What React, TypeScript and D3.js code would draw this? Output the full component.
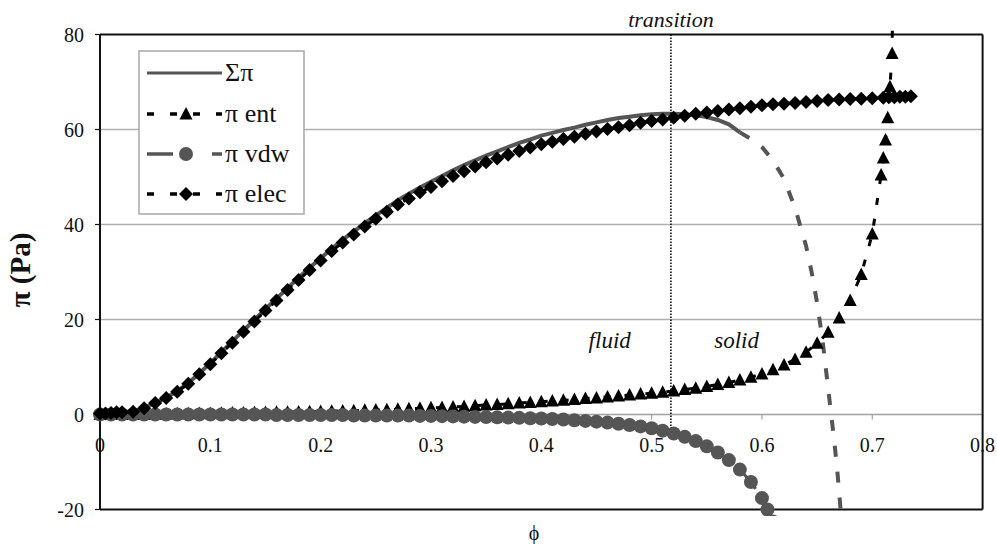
import React from "react";
import * as d3 from "d3";

// ---- data (φ, π in Pa) ----
const sigmaData: [number, number][] = [
  [0, 0.2], [0.01, 0.3], [0.02, 0.5], [0.03, 0.6], [0.04, 1.35], [0.05, 2.5], [0.06, 3.6], [0.07, 4.9],
  [0.08, 6.6], [0.09, 8.7], [0.1, 10.8], [0.11, 13.1], [0.12, 15.4], [0.13, 17.7], [0.14, 19.9], [0.15, 22.2],
  [0.16, 24.4], [0.17, 26.6], [0.18, 28.8], [0.19, 30.9], [0.2, 32.9], [0.21, 34.9], [0.22, 36.8], [0.23, 38.5],
  [0.24, 40.3], [0.25, 41.9], [0.26, 43.5], [0.27, 45.1], [0.28, 46.5], [0.29, 47.8], [0.3, 49.0], [0.31, 50.2],
  [0.32, 51.4], [0.33, 52.5], [0.34, 53.5], [0.35, 54.5], [0.36, 55.4], [0.37, 56.3], [0.38, 57.2], [0.39, 57.9],
  [0.4, 58.7], [0.41, 59.3], [0.42, 59.9], [0.43, 60.4], [0.44, 61.0], [0.45, 61.5], [0.46, 62.0], [0.47, 62.4],
  [0.48, 62.7], [0.49, 63.0], [0.5, 63.2], [0.51, 63.3], [0.52, 63.3], [0.53, 63.2], [0.54, 63.0], [0.55, 62.6],
  [0.56, 62.0], [0.57, 61.1], [0.58, 59.4], [0.59, 58.0], [0.6, 56.3], [0.61, 53.5], [0.62, 49.6], [0.63, 43.5],
  [0.64, 35.5], [0.645, 30.0], [0.65, 23.5], [0.655, 15.5], [0.66, 5.5], [0.665, -4.5], [0.668, -11.0],
  [0.67, -16.5], [0.672, -22.0],
];
const sigmaSolidUntil = 0.58; // Σπ drawn solid up to here, dashed after

const entData: [number, number][] = [
  [0, 0], [0.01, 0], [0.02, 0], [0.03, 0.05], [0.04, 0.05], [0.05, 0.1], [0.06, 0.1], [0.07, 0.15], [0.08, 0.15],
  [0.09, 0.2], [0.1, 0.2], [0.11, 0.25], [0.12, 0.3], [0.13, 0.3], [0.14, 0.35], [0.15, 0.4], [0.16, 0.45],
  [0.17, 0.5], [0.18, 0.55], [0.19, 0.6], [0.2, 0.65], [0.21, 0.7], [0.22, 0.75], [0.23, 0.8], [0.24, 0.9],
  [0.25, 0.95], [0.26, 1.0], [0.27, 1.1], [0.28, 1.2], [0.29, 1.3], [0.3, 1.4], [0.31, 1.5], [0.32, 1.6],
  [0.33, 1.7], [0.34, 1.85], [0.35, 2.0], [0.36, 2.1], [0.37, 2.25], [0.38, 2.4], [0.39, 2.55], [0.4, 2.7],
  [0.41, 2.85], [0.42, 3.0], [0.43, 3.15], [0.44, 3.35], [0.45, 3.5], [0.46, 3.7], [0.47, 3.9], [0.48, 4.1],
  [0.49, 4.3], [0.5, 4.5], [0.51, 4.7], [0.52, 4.95], [0.53, 5.25], [0.54, 5.55], [0.55, 5.9], [0.56, 6.3],
  [0.57, 6.75], [0.58, 7.25], [0.59, 7.85], [0.6, 8.55], [0.61, 9.4], [0.62, 10.4], [0.63, 11.6], [0.64, 13.1],
  [0.65, 15.0], [0.66, 17.3], [0.67, 20.3], [0.68, 24.0], [0.69, 29.5], [0.7, 38.0], [0.708, 50.4], [0.71, 54.0],
  [0.712, 57.8], [0.714, 62.5], [0.716, 69.0], [0.718, 76.0], [0.7185, 90.0],
];

const vdwData: [number, number][] = [
  [0, 0], [0.01, 0], [0.02, 0], [0.03, 0], [0.04, 0], [0.05, 0], [0.06, 0], [0.07, 0], [0.08, 0], [0.09, 0],
  [0.1, 0], [0.11, 0], [0.12, 0], [0.13, 0], [0.14, 0], [0.15, 0], [0.16, -0.1], [0.17, -0.1], [0.18, -0.1],
  [0.19, -0.1], [0.2, -0.1], [0.21, -0.1], [0.22, -0.1], [0.23, -0.2], [0.24, -0.2], [0.25, -0.2], [0.26, -0.2],
  [0.27, -0.2], [0.28, -0.2], [0.29, -0.3], [0.3, -0.3], [0.31, -0.35], [0.32, -0.4], [0.33, -0.45], [0.34, -0.5],
  [0.35, -0.55], [0.36, -0.6], [0.37, -0.65], [0.38, -0.7], [0.39, -0.8], [0.4, -0.85], [0.41, -0.95],
  [0.42, -1.05], [0.43, -1.2], [0.44, -1.35], [0.45, -1.5], [0.46, -1.7], [0.47, -1.95], [0.48, -2.2],
  [0.49, -2.5], [0.5, -2.9], [0.51, -3.4], [0.52, -4.0], [0.53, -4.7], [0.54, -5.6], [0.55, -6.7], [0.56, -8.0],
  [0.57, -9.6], [0.58, -11.6], [0.59, -14.2], [0.6, -17.6], [0.605, -20.0], [0.61, -22.5],
];

const elecData: [number, number][] = [
  [0, 0.2], [0.005, 0.2], [0.01, 0.3], [0.015, 0.5], [0.02, 0.5], [0.03, 0.6], [0.04, 1.3], [0.05, 2.4],
  [0.06, 3.5], [0.07, 4.8], [0.08, 6.5], [0.09, 8.5], [0.1, 10.6], [0.11, 12.9], [0.12, 15.1], [0.13, 17.4],
  [0.14, 19.6], [0.15, 21.9], [0.16, 24.0], [0.17, 26.2], [0.18, 28.3], [0.19, 30.4], [0.2, 32.4], [0.21, 34.4],
  [0.22, 36.2], [0.23, 37.9], [0.24, 39.6], [0.25, 41.2], [0.26, 42.7], [0.27, 44.2], [0.28, 45.5], [0.29, 46.8],
  [0.3, 47.9], [0.31, 49.1], [0.32, 50.2], [0.33, 51.2], [0.34, 52.2], [0.35, 53.1], [0.36, 53.9], [0.37, 54.7],
  [0.38, 55.5], [0.39, 56.2], [0.4, 56.9], [0.41, 57.4], [0.42, 58.0], [0.43, 58.5], [0.44, 59.1], [0.45, 59.6],
  [0.46, 60.1], [0.47, 60.5], [0.48, 60.9], [0.49, 61.4], [0.5, 61.8], [0.51, 62.1], [0.52, 62.5], [0.53, 62.9],
  [0.54, 63.3], [0.55, 63.6], [0.56, 63.9], [0.57, 64.2], [0.58, 64.5], [0.59, 64.8], [0.6, 65.1], [0.61, 65.3],
  [0.62, 65.4], [0.63, 65.6], [0.64, 65.8], [0.65, 66.0], [0.66, 66.2], [0.67, 66.3], [0.68, 66.4], [0.69, 66.5],
  [0.7, 66.6], [0.71, 66.7], [0.715, 66.8], [0.72, 66.8], [0.725, 66.9], [0.73, 66.9], [0.735, 67.0],
];

const xTicks = [0, 0.1, 0.2, 0.3, 0.4, 0.5, 0.6, 0.7, 0.8];
const xTickLabels = ["0", "0.1", "0.2", "0.3", "0.4", "0.5", "0.6", "0.7", "0.8"];
const yTicks = [-20, 0, 20, 40, 60, 80];
const yTickLabels = ["-20", "0", "20", "40", "60", "80"];
const gridValues = [20, 40, 60];
const legendLabels = ["Σπ", "π ent", "π vdw", "π elec"];
const transitionPhi = 0.5175;
const transitionBottom = -2.8;
const regionLabels: [string, number][] = [["fluid", 0.462], ["solid", 0.577]];
const regionLabelValue = 14;

const W = 997;
const H = 544;
const GRAY = "#555555";
const FONT = "'Liberation Serif', 'Times New Roman', serif";

const x = d3.scaleLinear().domain([0, 0.8]).range([100, 982.6]);
const y = d3.scaleLinear().domain([-20, 80]).range([509.5, 34.5]);

const line = d3
  .line<[number, number]>()
  .x((d) => x(d[0]))
  .y((d) => y(d[1]));

const diamondPath = "M0,-7L7,0L0,7L-7,0Z";
const trianglePath = "M0,-7L6.5,5.5L-6.5,5.5Z";

function Marker({ kind, cx, cy, fill }: { kind: string; cx: number; cy: number; fill: string }) {
  if (kind === "circle") return <circle cx={cx} cy={cy} r={7} fill={fill} />;
  return (
    <path
      d={kind === "diamond" ? diamondPath : trianglePath}
      transform={`translate(${cx},${cy})`}
      fill={fill}
    />
  );
}

export default function App() {
  const sigmaSolid = sigmaData.filter((d) => d[0] <= sigmaSolidUntil);
  const sigmaDashed = sigmaData.filter((d) => d[0] >= sigmaSolidUntil);
  const x0 = x(0);
  const x1 = x(0.8);
  const yTop = y(80);
  const yBot = y(-20);
  const yZero = y(0);

  const legendX = 139;
  const legendY = 51;
  const legendRows = [73, 114, 154, 194];
  const lx0 = 147;
  const lx1 = 222;
  const lmid = 186;

  return (
    <svg
      width={W}
      height={H}
      style={{ position: "absolute", left: 0, top: 0, background: "#fff" }}
      fontFamily={FONT}
    >
      <defs>
        <clipPath id="plotClip">
          <rect x={86} y={28} width={910} height={488} />
        </clipPath>
      </defs>
      <rect x={0} y={0} width={W} height={H} fill="#fff" />

      {/* gridlines */}
      {gridValues.map((v) => (
        <line key={v} x1={x0} x2={x1} y1={y(v)} y2={y(v)} stroke="#b0b0b0" strokeWidth={1.5} />
      ))}
      {/* x axis at zero */}
      <line x1={x0} x2={x1} y1={yZero} y2={yZero} stroke="#a0a0a0" strokeWidth={1.5} />
      {xTicks.map((t) => (
        <line key={t} x1={x(t)} x2={x(t)} y1={yZero} y2={yZero + 5} stroke="#a0a0a0" strokeWidth={1.2} />
      ))}

      {/* frame */}
      <line x1={x0} x2={x1} y1={yTop} y2={yTop} stroke="#111" strokeWidth={2} />
      <line x1={x1} x2={x1} y1={yTop} y2={yBot} stroke="#111" strokeWidth={2} />
      <line x1={x0} x2={x1} y1={yBot} y2={yBot} stroke="#111" strokeWidth={2} />
      <line x1={x0} x2={x0} y1={yTop} y2={yBot} stroke="#111" strokeWidth={2} />
      {yTicks.map((t) => (
        <line key={t} x1={x0 - 5} x2={x0} y1={y(t)} y2={y(t)} stroke="#111" strokeWidth={1.2} />
      ))}

      {/* tick labels */}
      {xTicks.map((t, i) => (
        <text key={t} x={x(t)} y={452} textAnchor="middle" fontSize={20} fill="#111">
          {xTickLabels[i]}
        </text>
      ))}
      {yTicks.map((t, i) => (
        <text key={t} x={84} y={y(t) + 7} textAnchor="end" fontSize={20} fill="#111">
          {yTickLabels[i]}
        </text>
      ))}

      {/* axis titles */}
      <text x={534} y={540} textAnchor="middle" fontSize={20} fill="#111">ϕ</text>
      <text
        transform="translate(30,270) rotate(-90)"
        textAnchor="middle"
        fontSize={29}
        fontWeight="bold"
        fill="#111"
      >
        π (Pa)
      </text>

      {/* series */}
      <g clipPath="url(#plotClip)">
        <path d={line(sigmaSolid) || ""} fill="none" stroke={GRAY} strokeWidth={4} />
        <path d={line(sigmaDashed) || ""} fill="none" stroke={GRAY} strokeWidth={4} strokeDasharray="11 15" />

        <path d={line(entData) || ""} fill="none" stroke="#000" strokeWidth={3} strokeDasharray="7 14" />
        {entData.map((d, i) => (
          <Marker key={"e" + i} kind="triangle" cx={x(d[0])} cy={y(d[1])} fill="#000" />
        ))}

        <path d={line(vdwData) || ""} fill="none" stroke={GRAY} strokeWidth={3} strokeDasharray="26 39" />
        {vdwData.map((d, i) => (
          <Marker key={"v" + i} kind="circle" cx={x(d[0])} cy={y(d[1])} fill={GRAY} />
        ))}

        <path d={line(elecData) || ""} fill="none" stroke="#000" strokeWidth={3} strokeDasharray="7 14" />
        {elecData.map((d, i) => (
          <Marker key={"d" + i} kind="diamond" cx={x(d[0])} cy={y(d[1])} fill="#000" />
        ))}
      </g>

      {/* transition line */}
      <line
        x1={x(transitionPhi)}
        x2={x(transitionPhi)}
        y1={yTop}
        y2={y(transitionBottom)}
        stroke="#000"
        strokeWidth={1.5}
        strokeDasharray="1.5 1.5"
      />
      <text x={x(transitionPhi)} y={27} textAnchor="middle" fontSize={22} fontStyle="italic" fill="#111">
        transition
      </text>
      {regionLabels.map(([t, p]) => (
        <text key={t} x={x(p)} y={y(regionLabelValue)} textAnchor="middle" fontSize={23} fontStyle="italic" fill="#111">
          {t}
        </text>
      ))}

      {/* legend */}
      <rect x={legendX} y={legendY} width={165} height={163} fill="#fff" stroke="#a8a8a8" strokeWidth={1.5} />
      {/* Σπ */}
      <line x1={lx0} x2={lx1} y1={legendRows[0]} y2={legendRows[0]} stroke={GRAY} strokeWidth={3} />
      {/* ent */}
      <line x1={lx0} x2={lx1} y1={legendRows[1]} y2={legendRows[1]} stroke="#000" strokeWidth={3.5} strokeDasharray="7 16" />
      <Marker kind="triangle" cx={lmid} cy={legendRows[1]} fill="#000" />
      {/* vdw */}
      <line x1={lx0} x2={lx1} y1={legendRows[2]} y2={legendRows[2]} stroke={GRAY} strokeWidth={3.5} strokeDasharray="26 39" />
      <Marker kind="circle" cx={lmid} cy={legendRows[2]} fill={GRAY} />
      {/* elec */}
      <line x1={lx0} x2={lx1} y1={legendRows[3]} y2={legendRows[3]} stroke="#000" strokeWidth={3.5} strokeDasharray="7 16" />
      <Marker kind="diamond" cx={lmid} cy={legendRows[3]} fill="#000" />
      {legendLabels.map((l, i) => (
        <text key={l} x={225} y={legendRows[i] + 8} fontSize={26} fill="#111">
          {l}
        </text>
      ))}
    </svg>
  );
}
